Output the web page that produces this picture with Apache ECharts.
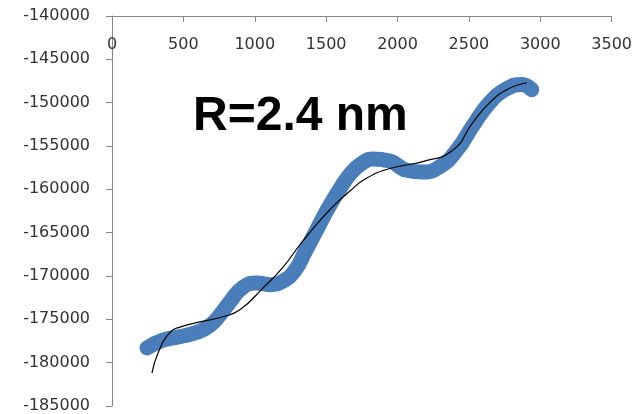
<!DOCTYPE html>
<html><head><meta charset="utf-8">
<script src="https://cdn.jsdelivr.net/npm/echarts@6/dist/echarts.min.js"></script>
<style>html,body{margin:0;padding:0;background:#fff}#c{width:635px;height:414px}</style>
</head><body><div id="c"></div>
<script>
// Measured data (blue band) - x positions and y values
var measX = [245, 357, 476, 595, 686, 756, 826, 917, 1015, 1106, 1197, 1280, 1350, 1430, 1510, 1590, 1670, 1750, 1830, 1940, 2065, 2177, 2296, 2415, 2527, 2646, 2765, 2870, 2940];
var measY = [-178300, -177400, -177000, -176500, -175700, -174500, -173000, -171300, -170800, -171000, -170600, -169400, -167300, -164800, -162300, -160100, -158200, -157000, -156500, -156700, -157800, -158000, -157400, -155500, -152700, -150000, -148400, -147900, -148500];
// Fit curve (black)
var fitX = [280, 322, 406, 476, 616, 777, 896, 1057, 1197, 1316, 1420, 1530, 1666, 1785, 1946, 2177, 2387, 2527, 2646, 2765, 2905];
var fitY = [-181200, -178900, -176500, -175900, -175300, -174700, -173900, -171400, -169000, -166400, -164300, -162300, -160200, -158700, -157600, -156800, -155500, -152300, -150000, -148500, -147700];
var xTicks = [0, 500, 1000, 1500, 2000, 2500, 3000, 3500];
var yTicks = [-185000, -180000, -175000, -170000, -165000, -160000, -155000, -150000, -145000, -140000];
var annotation = "R=2.4 nm";

function pairs(xs, ys){ return xs.map(function(x,i){ return [x, ys[i]]; }); }
var chart = echarts.init(document.getElementById('c'), null, {renderer:'canvas'});
var lab = {fontFamily:'DejaVu Sans', fontSize:16, color:'#333', formatter:function(v){return String(v);}};
chart.setOption({
  animation:false,
  grid:{left:112, top:16, right:23, bottom:8, containLabel:false},
  xAxis:{type:'value', position:'top', min:xTicks[0], max:xTicks[xTicks.length-1], interval:500,
    axisLine:{onZero:false, lineStyle:{color:'#868686', width:1}},
    axisTick:{inside:true, length:6, lineStyle:{color:'#868686'}},
    axisLabel:Object.assign({inside:true, margin:21}, lab),
    splitLine:{show:false}},
  yAxis:{type:'value', min:yTicks[0], max:yTicks[yTicks.length-1], interval:5000,
    axisLine:{show:true, onZero:false, lineStyle:{color:'#868686', width:1}},
    axisTick:{show:true, length:6, lineStyle:{color:'#868686'}},
    axisLabel:Object.assign({margin:22}, lab),
    splitLine:{show:false}},
  graphic:[{type:'text', left:193, top:93, style:{text:annotation, font:'bold 48px "Liberation Sans", Arial', fill:'#000'}}],
  series:[
    {type:'line', data:pairs(measX, measY), smooth:0.5, symbol:'none',
      lineStyle:{color:'#4A7EBB', width:15, cap:'round', join:'round'}},
    {type:'line', data:pairs(fitX, fitY), smooth:0.5, symbol:'none',
      lineStyle:{color:'#000', width:1.2}}
  ]
});
</script></body></html>
